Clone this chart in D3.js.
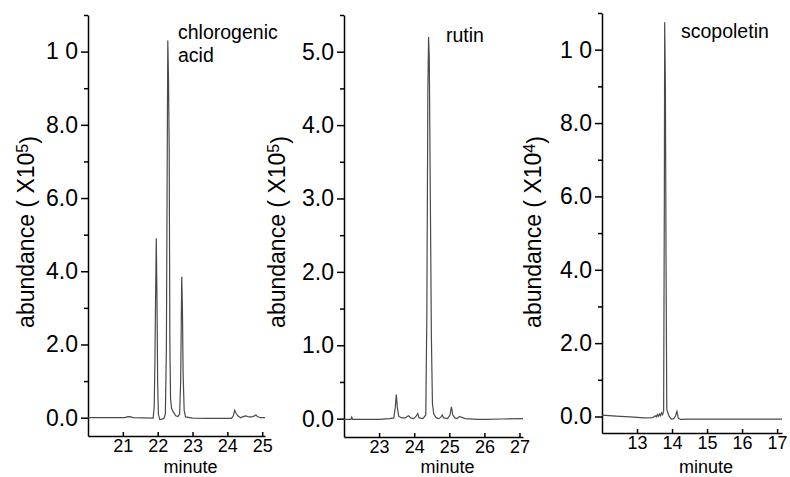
<!DOCTYPE html>
<html>
<head>
<meta charset="utf-8">
<script src="https://cdn.jsdelivr.net/npm/d3@7"></script>
<style>
    body { margin: 0; background: #fff; }
    svg { display: block; font-family: "Liberation Sans", Arial, sans-serif; }
    .axis path, .axis line { stroke: #000; stroke-width: 1.5px; }
    .axis text { fill: #000; font-family: "Liberation Sans", Arial, sans-serif; }
</style>
</head>
<body>
<div class="curr-graff"></div>
<script>
// chlorogenic acid, abundance x10^5
let chloro_t = [20.0, 21.05, 21.12, 21.2, 21.3, 21.87, 21.90, 21.92, 21.94, 21.96, 21.98, 22.00, 22.02, 22.06, 22.12, 22.18,
    22.22, 22.25, 22.27, 22.29, 22.31, 22.33, 22.35, 22.37, 22.40, 22.45, 22.52, 22.58, 22.63, 22.66, 22.69, 22.71, 22.73,
    22.76, 22.80, 23.0, 23.5, 24.0, 24.12, 24.17, 24.21, 24.25, 24.30, 24.38, 24.45, 24.53, 24.62, 24.70, 24.78, 24.82,
    24.86, 24.95, 25.08];
let chloro_v = [0.0, 0.0, 0.02, 0.03, 0.0, -0.01, 0.3, 1.5, 3.3, 4.9, 3.2, 0.9, 0.1, -0.05, -0.04, -0.02,
    0.1, 1.9, 6.3, 10.3, 9.3, 7.4, 2.0, 0.5, 0.25, 0.15, 0.05, 0.03, 0.1, 1.0, 3.85, 3.0, 1.2,
    0.2, 0.02, -0.01, -0.02, -0.02, -0.02, 0.05, 0.2, 0.12, 0.05, 0.0, 0.03, 0.05, 0.02, 0.02, 0.05, 0.08,
    0.03, 0.0, 0.0];

// rutin, abundance x10^5
let rutin_t = [22.0, 22.2, 22.22, 22.25, 23.0, 23.3, 23.42, 23.46, 23.49, 23.52, 23.56, 23.65, 23.75, 23.80, 23.84, 23.90,
    23.98, 24.05, 24.10, 24.14, 24.25, 24.33, 24.36, 24.39, 24.41, 24.43, 24.46, 24.49, 24.52, 24.56, 24.63, 24.70,
    24.76, 24.80, 24.84, 24.95, 25.02, 25.06, 25.10, 25.16, 25.22, 25.29, 25.34, 25.45, 25.8, 26.0, 26.5, 27.1];
let rutin_v = [-0.01, -0.01, 0.02, -0.01, -0.01, 0.0, 0.01, 0.15, 0.33, 0.15, 0.03, 0.01, 0.01, 0.03, 0.04, 0.01,
    0.0, 0.03, 0.07, 0.01, 0.0, 0.05, 1.4, 4.5, 5.2, 4.9, 3.0, 1.1, 0.2, 0.06, 0.01, 0.0,
    0.02, 0.05, 0.01, 0.0, 0.05, 0.16, 0.05, 0.01, 0.0, 0.03, 0.02, 0.0, -0.01, -0.01, -0.005, 0.0];

// scopoletin, abundance x10^4
let scopo_t = [12.0, 12.4, 12.8, 13.2, 13.45, 13.52, 13.55, 13.58, 13.61, 13.64, 13.67, 13.70, 13.73, 13.76, 13.78, 13.79,
    13.81, 13.83, 13.85, 13.88, 13.92, 13.98, 14.05, 14.10, 14.14, 14.18, 14.25, 14.5, 15.0, 16.0, 17.14];
let scopo_v = [0.035, 0.01, -0.01, -0.035, -0.03, 0.02, -0.01, 0.05, 0.0, 0.07, 0.02, 0.1, 0.05, 0.15, 5.8, 10.75,
    9.0, 4.0, 0.2, 0.1, 0.0, -0.07, -0.06, 0.02, 0.14, -0.05, -0.08, -0.07, -0.07, -0.07, -0.07];

let ticks_xChloro = [21, 22, 23, 24, 25];
let ticks_xRutin = [23, 24, 25, 26, 27];
let ticks_xScopo = [13, 14, 15, 16, 17];

let ticks_yBig = [0, 2, 4, 6, 8, 10];
let labels_yBig = ["0.0", "2.0", "4.0", "6.0", "8.0", "1 0"];
let minor_yBig = [1, 3, 5, 7, 9, 11];

let ticks_yRutin = [0, 1, 2, 3, 4, 5];
let labels_yRutin = ["0.0", "1.0", "2.0", "3.0", "4.0", "5.0"];
let minor_yRutin = [0.5, 1.5, 2.5, 3.5, 4.5, 5.5];

var svg = d3.select(".curr-graff")
    .append("svg")
    .attr("width", 790)
    .attr("height", 477);

function DrawPanel(p) {
    var xScale = d3.scaleLinear()
        .domain(p.xDom)
        .range([p.left, p.right]);

    var yScale = d3.scaleLinear()
        .domain(p.yDom)
        .range([p.bottom, p.top]);

    // minor y ticks
    svg.append("g")
        .attr("class", "axis")
        .attr("transform", "translate(" + p.left + ",0)")
        .call(d3.axisLeft(yScale).tickValues(p.yMinor).tickFormat("").tickSize(4).tickSizeOuter(0))
        .select(".domain").remove();

    let yAxis = d3.axisLeft(yScale)
        .tickValues(p.yTicks)
        .tickFormat((d, i) => p.yLabels[i])
        .tickSize(7)
        .tickSizeOuter(0)
        .tickPadding(3);

    let gy = svg.append("g")
        .attr("class", "axis")
        .attr("transform", "translate(" + p.left + ",0)")
        .call(yAxis);
    gy.selectAll("text").style("font-size", "23px");

    let xAxis = d3.axisBottom(xScale)
        .tickValues(p.xTicks)
        .tickFormat(d3.format("d"))
        .tickSizeInner(-4)
        .tickSizeOuter(0)
        .tickPadding(3);

    let gx = svg.append("g")
        .attr("class", "axis")
        .attr("transform", "translate(0," + p.bottom + ")")
        .call(xAxis);
    gx.selectAll("text").style("font-size", "18px");

    let line = d3.line()
        .x(function(d, i) { return xScale(p.t[i]); })
        .y(function(d) { return yScale(d); });

    svg.append("path")
        .datum(p.v)
        .attr("d", line)
        .attr("fill", "none")
        .attr("stroke", "#4a4a4a")
        .attr("stroke-width", 1.2);

    svg.append("text")
        .attr("x", (p.left + p.right) / 2 + 14)
        .attr("y", 473)
        .attr("text-anchor", "middle")
        .style("font-size", "18px")
        .text("minute");

    let title = svg.append("text")
        .attr("transform", "translate(" + p.titleX + ",232) rotate(-90)")
        .attr("text-anchor", "middle")
        .style("font-size", "23px");
    title.append("tspan").text("abundance ( X10");
    title.append("tspan").attr("dy", "-0.4em").style("font-size", "16px").text(p.exp);
    title.append("tspan").attr("dy", "0.4em").text(")");

    for (let i = 0; i < p.names.length; i++) {
        svg.append("text")
            .attr("x", p.nameX)
            .attr("y", p.nameY + i * 23)
            .style("font-size", "19.5px")
            .text(p.names[i]);
    }
}

DrawPanel({
    t: chloro_t, v: chloro_v,
    xDom: [20, 25.08], yDom: [-0.5, 11.0],
    left: 88, right: 265, top: 15, bottom: 436,
    xTicks: ticks_xChloro, yTicks: ticks_yBig, yLabels: labels_yBig, yMinor: minor_yBig,
    titleX: 34, exp: "5", names: ["chlorogenic", "acid"], nameX: 178, nameY: 39
});

DrawPanel({
    t: rutin_t, v: rutin_v,
    xDom: [22, 27.1], yDom: [-0.25, 5.5],
    left: 344, right: 523, top: 15, bottom: 437,
    xTicks: ticks_xRutin, yTicks: ticks_yRutin, yLabels: labels_yRutin, yMinor: minor_yRutin,
    titleX: 285, exp: "5", names: ["rutin"], nameX: 446, nameY: 42
});

DrawPanel({
    t: scopo_t, v: scopo_v,
    xDom: [12, 17.14], yDom: [-0.45, 11.0],
    left: 602, right: 782, top: 13, bottom: 433,
    xTicks: ticks_xScopo, yTicks: ticks_yBig, yLabels: labels_yBig, yMinor: minor_yBig,
    titleX: 541, exp: "4", names: ["scopoletin"], nameX: 681, nameY: 38
});
</script>
</body>
</html>
